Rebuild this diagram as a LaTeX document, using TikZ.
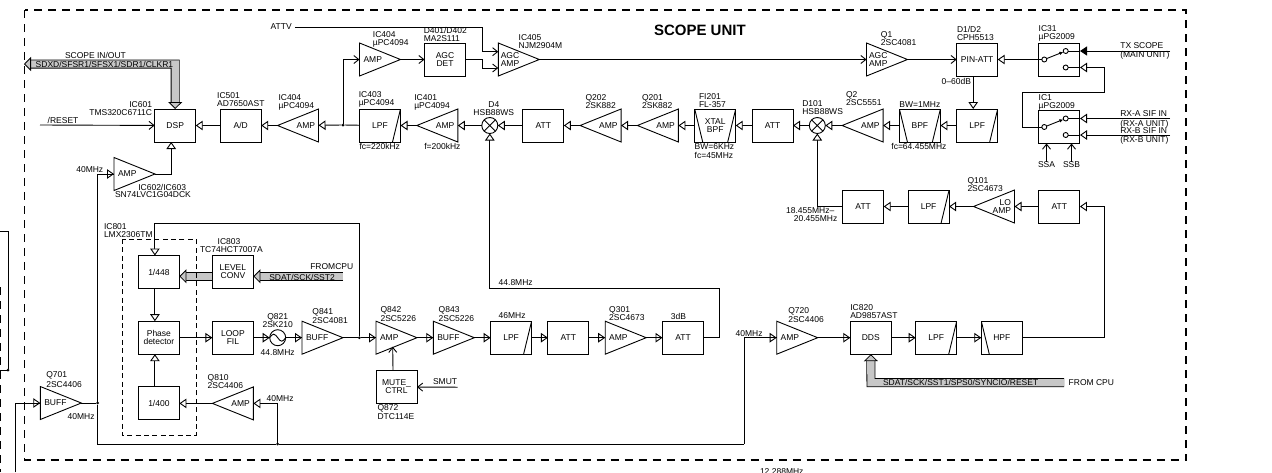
\documentclass[tikz,border=0pt]{standalone}
\usepackage{fontspec}
\setmainfont{Liberation Sans}
\usetikzlibrary{arrows.meta, positioning, calc}
\definecolor{busgray}{gray}{0.78}
\newcommand{\sigfont}{\fontsize{8.5}{8}\selectfont\lineskiplimit=-5pt}

\begin{document}
\begin{tikzpicture}[
  x=1pt, y=-1pt,
  line width=0.9pt,
  node distance=16.3pt,
  every node/.style={font=\sigfont, outer sep=0pt},
  box/.style={draw, minimum width=41pt, minimum height=33pt, inner sep=0pt, align=center},
  lpf/.style={box, path picture={\draw (path picture bounding box.north east) -- ([xshift=-8pt]path picture bounding box.south east);}},
  hpf/.style={box, path picture={\draw (path picture bounding box.north west) -- ([xshift=8pt]path picture bounding box.south west);}},
  bpf/.style={box, path picture={\draw (path picture bounding box.north east) -- ([xshift=-8pt]path picture bounding box.south east)
      (path picture bounding box.north west) -- ([xshift=8pt]path picture bounding box.south west);}},
  ampr/.style={minimum width=41pt, minimum height=33pt, inner sep=0pt, text width=33pt, align=left,
    append after command={\pgfextra{\draw (\tikzlastnode.north west) -- (\tikzlastnode.east) -- (\tikzlastnode.south west) -- cycle;}}},
  ampl/.style={minimum width=41pt, minimum height=33pt, inner sep=0pt, text width=34pt, align=right,
    append after command={\pgfextra{\draw (\tikzlastnode.north east) -- (\tikzlastnode.west) -- (\tikzlastnode.south east) -- cycle;}}},
  agc/.style={ampr, text width=36pt},
  mixer/.style={draw, circle, minimum size=16pt, inner sep=0pt,
    path picture={\draw (path picture bounding box.north west) -- (path picture bounding box.south east)
      (path picture bounding box.north east) -- (path picture bounding box.south west);}},
  osc/.style={draw, circle, minimum size=16pt, inner sep=0pt,
    path picture={\draw (path picture bounding box.west) sin ++(4,-3.5) cos ++(4,3.5) sin ++(4,3.5) cos ++(4,-3.5);}},
  contact/.style={draw, circle, minimum size=5pt, inner sep=0pt},
  jct/.style={fill, circle, minimum size=3pt, inner sep=0pt},
  lbl/.style={inner sep=0pt, align=left},
  flbl/.style={lbl, anchor=west},
  sig/.style={-{Triangle[open, length=7pt, width=9.5pt, fill=white]}},
  sigt/.style={-{Triangle[open, length=7pt, width=9.5pt]}, preaction={draw, arrows=-}},
  bar/.style={-{Straight Barb[length=5pt, width=8pt]}},
  solid tip/.style={-{Triangle[length=7pt, width=9pt]}},
  bus/.style={double=busgray, double distance=7.4pt, line width=0.8pt},
  bustip/.tip={Triangle[length=7pt, width=14pt, fill=busgray, line width=0.8pt]},
  unitframe/.style={line width=1.7pt, dash pattern=on 8pt off 6pt},
  icframe/.style={line width=0.7pt, dash pattern=on 5pt off 3.4pt}
]
\useasboundingbox (0,0) rectangle (1272,472);

%% Main row, right to left
\node[box] (pinatt) at (977.2,59.5) {PIN-ATT};
\node[agc, left=49.2pt of pinatt] (q1) {AGC\\AMP};
\node[lpf, below=33pt of pinatt] (lpfa) {LPF};
\node[bpf, left=of lpfa] (bpfa) {BPF};
\node[ampl, left=of bpfa] (q2) {AMP};
\node[mixer, left=16.8pt of q2] (d101) {};
\node[box, left=of d101] (atta) {ATT};
\node[bpf, left=of atta] (xtal) {XTAL\\BPF};
\node[ampl, left=of xtal] (q201) {AMP};
\node[ampl, left=of q201] (q202) {AMP};
\node[box, left=of q202] (attb) {ATT};
\node[mixer, left=25pt of attb] (d4) {};
\node[ampl, left=24pt of d4] (ic401) {AMP};
\node[lpf, left=of ic401] (ic403) {LPF};
\node[ampl, left=41pt of ic403] (ic404b) {AMP};
\node[box, left=of ic404b] (ad) {A/D};
\node[box, left=24.5pt of ad] (dsp) {DSP};

%% Top row
\node[ampr, above=33pt of ic403] (ic404a) {AMP};
\node[box, right=24pt of ic404a] (agcdet) {AGC\\DET};
\node[agc, right=32.8pt of agcdet] (ic405) {AGC\\AMP};
\node[box, right=41pt of pinatt] (ic31) {};
\node[box, below=34.5pt of ic31] (ic1) {};
\node[ampr] (ic602) at (134.5,174) {AMP};

%% Switches
\node[contact] (swa) at (1044.3,59.5) {};
\node[contact] (swb) at (1065.7,51) {};
\node[contact] (swc) at (1065.7,67.5) {};
\node[contact] (swd) at (1044.3,127) {};
\node[contact] (swe) at (1065.7,118.5) {};
\node[contact] (swf) at (1065.7,135) {};

%% Second row
\node[box] (attd) at (1059.4,206.5) {ATT};
\node[ampl, left=24.4pt of attd] (q101) {LO\hspace*{3pt}\\AMP};
\node[lpf, left=24.4pt of q101] (lpfb) {LPF};
\node[box, left=24.4pt of lpfb] (attc) {ATT};

%% Lower rows
\node[box] (pd) at (158.9,337.7) {Phase\\detector};
\node[box, above=32.7pt of pd] (div448) {1/448};
\node[box, below=32.7pt of pd] (div400) {1/400};
\node[box, right=33pt of pd] (loopfil) {LOOP\\FIL};
\node[box, above=32.7pt of loopfil] (lvlconv) {LEVEL\\CONV};
\node[ampl, below=32.7pt of loopfil] (q810) {AMP};
\node[osc, right=of loopfil] (q821) {};
\node[ampr, right=of q821] (q841) {BUFF};
\node[ampr, right=33pt of q841] (q842) {AMP};
\node[box, below=of q842] (mute) {MUTE\_\\CTRL};
\node[ampr, right=of q842] (q843) {BUFF};
\node[lpf, right=of q843] (lpfc) {LPF};
\node[box, right=of lpfc] (atte) {ATT};
\node[ampr, right=of atte] (q301) {AMP};
\node[box, right=of q301] (attf) {ATT};
\node[ampr, right=73.2pt of attf] (q720) {AMP};
\node[box, right=32.6pt of q720] (dds) {DDS};
\node[lpf, right=24.4pt of dds] (lpfd) {LPF};
\node[hpf, right=24.6pt of lpfd] (hpfa) {HPF};
\node[ampr] (q701) at (60.8,403) {BUFF};

%% Junctions
\node[jct] (ja) at (343,125) {};
\node[jct] (jb) at (359.3,337.7) {};
\node[jct] (jc) at (97.7,403) {};
\node[jct] (jd) at (277.7,444) {};
\node[jct] (je) at (8,370) {};
\node[flbl] (attv) at (270.7,27) {ATTV};

%% Free ends and bends
\coordinate (ka) at (482.3,27);
\coordinate (kb) at (482.3,59.5);
\coordinate (agca) at (498.3,51.7);
\coordinate (agcb) at (498.3,68);
\coordinate (kc) at (719.3,288.3);
\coordinate (kd) at (359.3,223.3);
\coordinate (ke) at (744.3,444);
\coordinate (kf) at (1104.3,337.7);
\coordinate (kg) at (1022.3,92);
\coordinate (kh) at (1104.3,67.5);
\coordinate (pa) at (1080,51);
\coordinate (pb) at (1080,67.5);
\coordinate (pc) at (1080,118.5);
\coordinate (pd2) at (1080,135);
\coordinate (txin) at (1170,51);
\coordinate (rxa) at (1170,118.5);
\coordinate (rxb) at (1170,135);
\coordinate (resetin) at (40,125);
\coordinate (smutin) at (457.7,387.2);
\coordinate (muteout) at (392.7,346.7);
\coordinate (scopeio) at (24,64);
\coordinate (busk) at (175.2,64);
\coordinate (cpua) at (343,276.3);
\coordinate (cpub) at (1064,382.7);
\coordinate (cpuk) at (871,382.7);
\coordinate (lta) at (0,231);
\coordinate (ltb) at (8,231);
\coordinate (ltc) at (0,370);
\coordinate (ltd) at (15.7,472);

%% Grey buses
\draw[bus, {bustip}-{bustip}] (dsp.north) -- (busk) -- (scopeio);
\draw[bus, -{bustip}] (lvlconv.west |- cpua) -- (div448.east |- cpua);
\draw[bus, -{bustip}] (cpua) -- (lvlconv.east |- cpua);
\draw[bus, -{bustip}] (cpub) -- (cpuk) -- (dds.south);

%% Arrows, main row
\draw[sig] (lpfa) -- (bpfa);
\draw[sig] (bpfa) -- (q2);
\draw[sig] (q2) -- (d101);
\draw[sig] (d101) -- (atta);
\draw[sig] (atta) -- (xtal);
\draw[sig] (xtal) -- (q201);
\draw[sig] (q201) -- (q202);
\draw[sig] (q202) -- (attb);
\draw[sig] (attb) -- (d4);
\draw[sig] (d4) -- (ic401);
\draw[sig] (ic401) -- (ic403);
\draw (ic403) -- (ja);
\draw[sig] (ja) -- (ic404b);
\draw[sig] (ic404b) -- (ad);
\draw[sig] (ad) -- (dsp);
\draw[bar] (resetin) -- (dsp);

%% Arrows, top row
\draw[bar] (ja) |- (ic404a.west);
\draw[bar] (ic404a) -- (agcdet);
\draw[bar, shorten <=3pt] (attv.east) -- (ka) |- (agca);
\draw[bar] (agcdet.east) -- (kb) |- (agcb);
\draw[bar] (ic405) -- (q1);
\draw[bar] (q1) -- (pinatt);
\draw[sig] (swa) -- (pinatt);
\draw[sig] ([xshift=-4pt]pinatt.south) -- ([xshift=-4pt]lpfa.north);

%% Switches
\draw[-{Latex[length=4pt, width=3.5pt]}] (swa) -- (swb);
\draw[-{Latex[length=4pt, width=3.5pt]}] (swd) -- (swe);
\draw[solid tip] (txin) -- (pa);
\draw (pa) -- (swb);
\draw (pb) -- (swc);
\draw[sig] (swd) -| (kg) -| (kh) -- (pb);
\draw[sig] (rxa) -- (pc);
\draw (pc) -- (swe);
\draw[sig] (rxb) -- (pd2);
\draw (pd2) -- (swf);

%% Second row
\draw[sig] (hpfa.east) -- (kf) |- (attd.east);
\draw[sig] (attd) -- (q101);
\draw[sig] (q101) -- (lpfb);
\draw[sig] (lpfb) -- (attc);
\draw[sig] (attc.west) -| (d101);

%% Arrows, lower rows
\draw[sig] ([xshift=-4pt]div448.south) -- ([xshift=-4pt]pd.north);
\draw[sig] ([xshift=-4pt]div400.north) -- ([xshift=-4pt]pd.south);
\draw[sigt] (pd) -- (loopfil);
\draw[sigt] (loopfil) -- (q821);
\draw[sigt] (q821) -- (q841);
\draw (q841) -- (jb);
\draw[sigt] (jb) -- (q842);
\draw[sig] (jb) -- (kd) -| ([xshift=-4pt]div448.north);
\draw[sigt] (q842) -- (q843);
\draw[sigt] (q843) -- (lpfc);
\draw[sigt] (lpfc) -- (atte);
\draw[sigt] (atte) -- (q301);
\draw[sigt] (q301) -- (attf);
\draw[sig] (attf.east) -| (kc) -| (d4);
\draw[bar] (smutin) -- (mute);
\draw[bar] ([xshift=-3.5pt]mute.north) -- (muteout);
\draw[sigt] (q720) -- (dds);
\draw[sigt] (dds) -- (lpfd);
\draw[sigt] (lpfd) -- (hpfa);
\draw (q701) -- (jc);
\draw[sigt] (jc) |- (ic602.west);
\draw[sig] (ic602.east) -| ([xshift=-4pt]dsp.south);
\draw (jc) |- (jd);
\draw (jd) -- (ke);
\draw[sigt] (ke) |- (q720.west);
\draw[sig] (jd) |- (q810.east);
\draw[sig] (q810) -- (div400);
\draw[sigt] (ltd) |- (q701.west);
\draw (lta) -| (je);
\draw (ltc) -- (je);

%% Frames
\draw[unitframe] (24.5,10) rectangle (1186,460);
\draw[unitframe] (0,287) -- (0,472);
\draw[icframe] (122.3,239) rectangle (196,435.7);

%% Labels
\node[flbl, font=\bfseries\fontsize{15}{15}\selectfont] (title) at (654,30) {SCOPE UNIT};
\node[flbl] (scopel) at (65,55) {SCOPE IN/OUT};
\node[flbl] (scopes) at (35.7,64) {SDXD/SFSR1/SFSX1/SDR1/CLKR1};
\node[lbl, align=right, anchor=north east] (ic601l) at (152,102) {IC601\\TMS320C6711C};
\node[flbl] (resetl) at (47.7,120.3) {/RESET};
\node[lbl, above right=2.5pt and -3pt of ad.north west] (ic501l) {IC501\\AD7650AST};
\node[lbl, above right=-1.3pt and 1pt of ic404b.north west] (ic404bl) {IC404\\µPC4094};
\node[lbl, above right=1.4pt and -0.7pt of ic403.north west] (ic403l) {IC403\\µPC4094};
\node[lbl, below right=1.5pt and 0pt of ic403.south west] (ic403f) {fc=220kHz};
\node[lbl, above right=-1.3pt and -2.5pt of ic401.north west] (ic401l) {IC401\\µPC4094};
\node[lbl, below right=1.5pt and 7.5pt of ic401.south west] (ic401f) {f=200kHz};
\node[lbl, above right=-4.5pt and 13.4pt of ic404a.north west] (ic404al) {IC404\\µPC4094};
\node[lbl, above right=1pt and -0.7pt of agcdet.north west] (agcdetl) {D401/D402\\MA2S111};
\node[lbl, above right=-5.3pt and 20.4pt of ic405.north west] (ic405l) {IC405\\NJM2904M};
\node[lbl, above right=-3pt and 14.4pt of q1.north west] (q1l) {Q1\\2SC4081};
\node[lbl, above right=2pt and 0.3pt of pinatt.north west] (pinattl) {D1/D2\\CPH5513};
\node[lbl, anchor=east] (pinattd) at (971,81) {0--60dB};
\node[lbl, above right=1.9pt and 0pt of ic31.north west] (ic31l) {IC31\\µPG2009};
\node[lbl, above right=0.4pt and 0pt of ic1.north west] (ic1l) {IC1\\µPG2009};
\node[lbl, above right=3.5pt and 4pt of q2.north west] (q2l) {Q2\\2SC5551};
\node[lbl, above right=1.2pt and 0pt of bpfa.north west] (bpfal) {BW=1MHz};
\node[lbl, below right=1.5pt and -8pt of bpfa.south west] (bpfaf) {fc=64.455MHz};
\node[lbl, above right=0.5pt and 5.5pt of q202.north west] (q202l) {Q202\\2SK882};
\node[lbl, above right=0.5pt and 4.7pt of q201.north west] (q201l) {Q201\\2SK882};
\node[lbl, above right=1.5pt and 4.3pt of xtal.north west] (xtall) {FI201\\FL-357};
\node[lbl, below right=1.5pt and 0pt of xtal.south west] (xtalf) {BW=6KHz\\[1pt]fc=45MHz};
\node[lbl, align=center, above=1.7pt of d4, xshift=4pt] (d4l) {D4\\HSB88WS};
\node[lbl, above right=3pt and -15pt of d101.north] (d101l) {D101\\HSB88WS};
\node[lbl, align=right, anchor=north east] (attcl) at (837.3,208) {18.455MHz--\hspace*{3pt}\\20.455MHz};
\node[flbl] (txl) at (1120.3,46) {TX SCOPE};
\node[flbl] (txm) at (1120.3,55.7) {(MAIN UNIT)};
\node[flbl] (rxal) at (1120.3,114) {RX-A SIF IN};
\node[flbl] (rxam) at (1120.3,124) {(RX-A UNIT)};
\node[flbl] (rxbl) at (1120.3,131) {RX-B SIF IN};
\node[flbl] (rxbm) at (1120.3,140) {(RX-B UNIT)};
\node[lbl, anchor=north] (ssa) at (1046.5,161.5) {SSA};
\node[lbl, anchor=north] (ssb) at (1071.5,161.5) {SSB};
\draw[bar] (ssa.north) -- (ssa.north |- ic1.south);
\draw[bar] (ssb.north) -- (ssb.north |- ic1.south);
\node[lbl, above right=-1.5pt and -6pt of q101.north west] (q101l) {Q101\\2SC4673};
\node[flbl] (fortya) at (76.3,170) {40MHz};
\node[flbl] (ic602l) at (138.3,187) {IC602/IC603};
\node[flbl] (ic602m) at (115,195) {SN74LVC1G04DCK};
\node[lbl, anchor=north west] (ic801l) at (104,223.5) {IC801\\LMX2306TM};
\node[flbl] (ic803l) at (217.7,242) {IC803};
\node[flbl] (ic803m) at (200,250) {TC74HCT7007A};
\node[flbl] (fromcpua) at (310.3,267) {FROMCPU};
\node[flbl] (sdata) at (269.3,277) {SDAT/SCK/SST2};
\node[lbl, align=center, above=2pt of q821] (q821l) {Q821\\2SK210};
\node[lbl, below=3.5pt of q821] (q821f) {44.8MHz};
\node[lbl, above right=-2.5pt and 10.4pt of q841.north west] (q841l) {Q841\\[1pt]2SC4081};
\node[lbl, above right=-0.5pt and 4.6pt of q842.north west] (q842l) {Q842\\[1pt]2SC5226};
\node[lbl, above right=-0.5pt and 5.4pt of q843.north west] (q843l) {Q843\\[1pt]2SC5226};
\node[lbl, above right=2.5pt and 8pt of lpfc.north west] (lpfcl) {46MHz};
\node[lbl, above right=0.2pt and 4pt of q301.north west] (q301l) {Q301\\2SC4673};
\node[lbl, above right=1.8pt and 8.4pt of attf.north west] (attfl) {3dB};
\node[flbl] (fortyfour) at (498.7,283) {44.8MHz};
\node[flbl] (fortyb) at (735.7,333.3) {40MHz};
\node[lbl, above right=-1.5pt and 11.6pt of q720.north west] (q720l) {Q720\\[1pt]2SC4406};
\node[lbl, above right=2.5pt and 0pt of dds.north west] (ddsl) {IC820\\AD9857AST};
\node[flbl] (sdatb) at (883,382.7) {SDAT/SCK/SST1/SPS0/SYNCIO/RESET};
\node[flbl] (fromcpub) at (1068.7,382.7) {FROM CPU};
\node[lbl, above right=-2pt and -4.7pt of q810.north west] (q810l) {Q810\\2SC4406};
\node[flbl] (fortyc) at (266.7,398.3) {40MHz};
\node[lbl, above right=-1.3pt and 6pt of q701.north west] (q701l) {Q701\\[2pt]2SC4406};
\node[flbl] (fortyd) at (67.7,417) {40MHz};
\node[lbl, below right=1.3pt and 1.6pt of mute.south west] (mutel) {Q872\\[1pt]DTC114E};
\node[flbl] (smutl) at (433,382) {SMUT};
\node[flbl] (clk) at (760,472) {12.288MHz};

\end{tikzpicture}
\end{document}
